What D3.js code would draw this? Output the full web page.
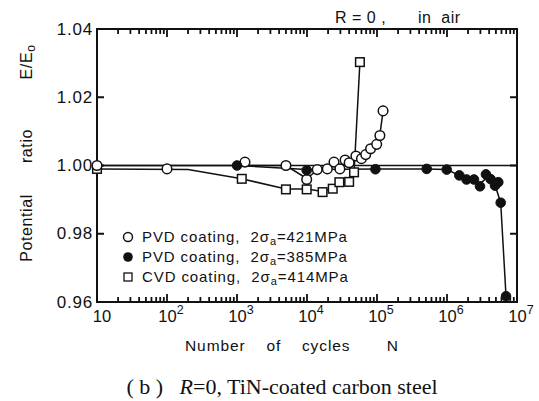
<!DOCTYPE html>
<html><head><meta charset="utf-8">
<script src="https://cdn.jsdelivr.net/npm/d3@7"></script>
<style>
body{margin:0;background:#fff;}
svg{display:block;}
text{font-family:"Liberation Sans",Arial,sans-serif;fill:#111;}
</style></head>
<body>
<svg id="c" width="539" height="401"></svg>
<script>
// ---- data ----
const pvd421N = [10, 100, 1300, 5000, 9900, 14000, 19500, 24300, 29500, 35000, 40000, 50000, 60000, 69000, 81000, 99000, 110000, 122000];
const pvd421V = [1.000, 0.999, 1.001, 1.000, 0.9959, 0.9988, 0.9990, 1.0010, 0.9990, 1.0016, 1.0008, 1.0028, 1.0020, 1.0032, 1.0049, 1.0062, 1.0088, 1.0160];
const pvd421LineN = [10, 5000, 9900, 14000, 20000, 30000, 40000, 50000, 60000, 70000, 81000, 99000, 110000, 122000, 122000];
const pvd421LineV = [1.000, 1.000, 0.9962, 0.9986, 0.9993, 1.0003, 1.0012, 1.0024, 1.0032, 1.0042, 1.0054, 1.0066, 1.0090, 1.0160, 1.0175];

const pvd385N = [1000, 9900, 95000, 513000, 990000, 1500000, 1900000, 2430000, 2960000, 3600000, 4200000, 4850000, 5400000, 5850000, 6970000];
const pvd385V = [1.000, 0.9986, 0.9989, 0.9990, 0.9988, 0.9971, 0.9959, 0.9959, 0.9939, 0.9974, 0.9960, 0.9941, 0.9951, 0.9891, 0.9617];
const pvd385LineN = [1000, 9900, 95000, 513000, 990000, 1500000, 1900000, 2430000, 2960000, 3600000, 4200000, 4850000, 5850000, 6970000];
const pvd385LineV = [1.000, 0.9988, 0.9990, 0.9990, 0.9988, 0.9971, 0.9962, 0.9958, 0.9946, 0.9962, 0.9955, 0.9943, 0.9891, 0.9617];

const cvd414N = [10, 1170, 5000, 9900, 16700, 23300, 29000, 40000, 47000, 57000];
const cvd414V = [0.9990, 0.9961, 0.9930, 0.9930, 0.9922, 0.9932, 0.9951, 0.9952, 0.9980, 1.0303];
const cvd414LineN = [10, 200, 1170, 5000, 9900, 16700, 23300, 29000, 40000, 47000, 57000];
const cvd414LineV = [0.9990, 0.9988, 0.9961, 0.9931, 0.9931, 0.9924, 0.9933, 0.9950, 0.9955, 0.9978, 1.0303];

const yTicks = [0.96, 0.98, 1.00, 1.02, 1.04];
const yTickLabels = ["0.96", "0.98", "1.00", "1.02", "1.04"];
const xTicks = [10, 1e2, 1e3, 1e4, 1e5, 1e6, 1e7];
const xTickExp = ["", "2", "3", "4", "5", "6", "7"];
const minorMult = [2, 3, 4, 5, 6, 7, 8, 9];
const legendLabels = [["PVD coating,  2σ", "a", "=421MPa"], ["PVD coating,  2σ", "a", "=385MPa"], ["CVD coating,  2σ", "a", "=414MPa"]];

// ---- layout ----
const svg = d3.select("#c");
const L = 97, R = 517, T = 29, B = 302;
const x = d3.scaleLog().domain([10, 1e7]).range([L, R]);
const y = d3.scaleLinear().domain([0.96, 1.04]).range([B, T]);

const minors = [];
xTicks.slice(0, -1).forEach(dec => minorMult.forEach(k => minors.push(k * dec)));

// frame
svg.append("rect").attr("x", L).attr("y", T).attr("width", R - L).attr("height", B - T)
  .attr("fill", "none").attr("stroke", "#111").attr("stroke-width", 2);

// ticks as one path
const p = d3.path();
minors.forEach(d => { const px = x(d); p.moveTo(px, B); p.lineTo(px, B - 5); p.moveTo(px, T); p.lineTo(px, T + 5); });
xTicks.forEach(d => { const px = x(d); p.moveTo(px, B); p.lineTo(px, B - 8); p.moveTo(px, T); p.lineTo(px, T + 8); });
yTicks.forEach(d => { const py = y(d); p.moveTo(L, py); p.lineTo(L + 7, py); p.moveTo(R, py); p.lineTo(R - 7, py); });
svg.append("path").attr("d", p.toString()).attr("fill", "none").attr("stroke", "#111").attr("stroke-width", 1.8);

// reference line at 1.00
svg.append("line").attr("x1", L).attr("x2", R).attr("y1", y(1)).attr("y2", y(1))
  .attr("stroke", "#111").attr("stroke-width", 1.5);

// y tick labels
svg.append("g").selectAll("text").data(yTicks).join("text")
  .attr("x", L - 4).attr("y", d => y(d) + 5.5).attr("text-anchor", "end")
  .attr("font-size", 17).attr("letter-spacing", 0.8)
  .text((d, i) => yTickLabels[i]);

// x tick labels
const xl = svg.append("g").selectAll("text").data(xTicks).join("text")
  .attr("x", (d, i) => x(d) + (i ? 4 : 5)).attr("y", 322).attr("text-anchor", "middle").attr("font-size", 16.5);
xl.append("tspan").text("10");
xl.append("tspan").attr("dy", -8).attr("font-size", 12.5).text((d, i) => xTickExp[i]);

// lines
const line = d3.line().x(d => x(d[0])).y(d => y(d[1]));
function drawLine(N, V) {
  svg.append("path").datum(N.map((n, i) => [n, V[i]])).attr("d", line)
    .attr("fill", "none").attr("stroke", "#111").attr("stroke-width", 1.5);
}
drawLine(cvd414LineN, cvd414LineV);
drawLine(pvd421LineN, pvd421LineV);
drawLine(pvd385LineN, pvd385LineV);

// markers
svg.append("g").selectAll("rect").data(cvd414N.map((n, i) => [n, cvd414V[i]])).join("rect")
  .attr("x", d => x(d[0]) - 4.3).attr("y", d => y(d[1]) - 4.3).attr("width", 8.6).attr("height", 8.6)
  .attr("fill", "#fff").attr("stroke", "#111").attr("stroke-width", 1.5);
svg.append("g").selectAll("circle").data(pvd421N.map((n, i) => [n, pvd421V[i]])).join("circle")
  .attr("cx", d => x(d[0])).attr("cy", d => y(d[1])).attr("r", 4.8)
  .attr("fill", "#fff").attr("stroke", "#111").attr("stroke-width", 1.5);
svg.append("g").selectAll("circle").data(pvd385N.map((n, i) => [n, pvd385V[i]])).join("circle")
  .attr("cx", d => x(d[0])).attr("cy", d => y(d[1])).attr("r", 4.8)
  .attr("fill", "#111").attr("stroke", "#111").attr("stroke-width", 1);

// legend
const ly = [237, 257, 277];
svg.append("circle").attr("cx", 128).attr("cy", ly[0]).attr("r", 4.5).attr("fill", "#fff").attr("stroke", "#111").attr("stroke-width", 1.4);
svg.append("circle").attr("cx", 128).attr("cy", ly[1]).attr("r", 4.8).attr("fill", "#111");
svg.append("rect").attr("x", 124).attr("y", ly[2] - 4).attr("width", 8).attr("height", 8).attr("fill", "#fff").attr("stroke", "#111").attr("stroke-width", 1.3);
const lt = svg.append("g").selectAll("text").data(legendLabels).join("text")
  .attr("x", 142).attr("y", (d, i) => ly[i] + 5).attr("font-size", 15).attr("letter-spacing", 0.9)
  .attr("xml:space", "preserve");
lt.append("tspan").text(d => d[0]);
lt.append("tspan").attr("dy", 3).attr("font-size", 11).text(d => d[1]);
lt.append("tspan").attr("dy", -3).text(d => d[2]);

// titles
svg.append("text").attr("x", 335).attr("y", 23).attr("font-size", 16).attr("letter-spacing", 0.5)
  .attr("xml:space", "preserve").text("R = 0 ,");
svg.append("text").attr("x", 418).attr("y", 23).attr("font-size", 16).attr("letter-spacing", 0.5)
  .attr("xml:space", "preserve").text("in  air");
svg.append("text").attr("x", 292).attr("y", 351).attr("text-anchor", "middle").attr("font-size", 15.5)
  .attr("letter-spacing", 0.9).attr("xml:space", "preserve").text("Number    of    cycles       N");

// y title: three pieces
const yTitle = [["Potential", 228, ""], ["ratio", 146, ""], ["E/E", 62, "o"]];
const ytt = svg.append("g").selectAll("text").data(yTitle).join("text")
  .attr("transform", d => `translate(32,${d[1]}) rotate(-90)`).attr("text-anchor", "middle")
  .attr("font-size", 16).attr("letter-spacing", 0.6);
ytt.append("tspan").text(d => d[0]);
ytt.append("tspan").attr("dy", 3).attr("font-size", 12).text(d => d[2]);

const cap = svg.append("text").attr("x", 282).attr("y", 394).attr("text-anchor", "middle")
  .attr("font-size", 22).attr("xml:space", "preserve")
  .style("font-family", "'Liberation Serif','Times New Roman',serif");
cap.append("tspan").text("( b )   ");
cap.append("tspan").attr("font-style", "italic").text("R");
cap.append("tspan").text("=0, TiN-coated carbon steel");
</script>
</body></html>
